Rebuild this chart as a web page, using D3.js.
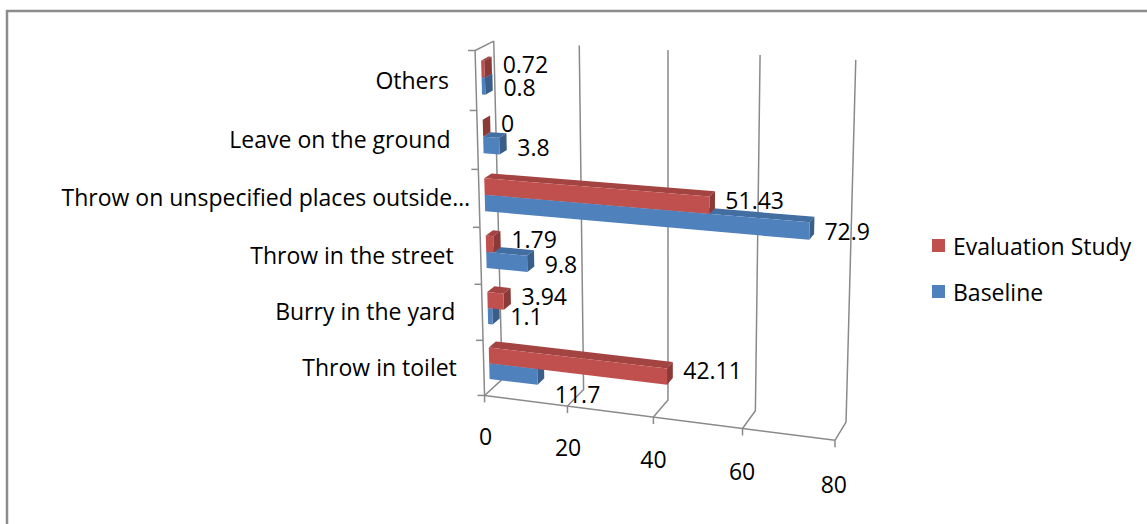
<!DOCTYPE html>
<html>
<head>
<meta charset="utf-8">
<script src="https://cdn.jsdelivr.net/npm/d3@7"></script>
<style>
  body { margin: 0; background: #fff; }
  text { font-family: "Open Sans", sans-serif; font-size: 23px; fill: #000; }
</style>
</head>
<body>
<svg id="chart" width="1147" height="524"></svg>
<script>
// data, bottom category first
var categories = ['Throw in toilet', 'Burry in the yard', 'Throw in the street',
  'Throw on unspecified places outside\u2026', 'Leave on the ground', 'Others'];
var baseline = [11.7, 1.1, 9.8, 72.9, 3.8, 0.8];
var evaluation = [42.11, 3.94, 1.79, 51.43, 0, 0.72];
var valueTicks = [0, 20, 40, 60, 80];
var seriesNames = ['Baseline', 'Evaluation Study'];
var seriesColors = ['#4F81BD', '#C0504D'];

var svg = d3.select('#chart');

// outer chart frame (runs off the right and bottom of the picture)
svg.append('rect')
  .attr('x', 7).attr('y', 11).attr('width', 1200).attr('height', 600)
  .attr('fill', 'none').attr('stroke', '#8c8c8c').attr('stroke-width', 2.5);

// unit cube -> screen. X = value, Y = category (up), Z = depth (0 front, 1 back)
// box corners and gridline ends as they sit in the picture, fitted with a DLT camera
var anchors = [
  [0, 0, 0, 485, 394], [1, 0, 0, 833, 441], [0, 1, 0, 478, 48], [0, 1, 1, 493, 43],
  [0, 0, 1, 501, 381], [1, 1, 1, 857, 60], [1, 0, 1, 847, 420],
  [0.25, 1, 1, 577, 45], [0.5, 1, 1, 667, 51], [0.75, 1, 1, 760, 55],
  [0.25, 0, 1, 584, 388], [0.5, 0, 1, 670, 400], [0.75, 0, 1, 756, 410],
  [0.25, 0, 0, 567, 407], [0.5, 0, 0, 653, 418], [0.75, 0, 0, 742, 430]
];
var CX = 650, CY = 250, S = 250;

function solveLinear(M, r) {
  var n = r.length, i, j, k;
  for (i = 0; i < n; i++) {
    var p = i;
    for (k = i + 1; k < n; k++) if (Math.abs(M[k][i]) > Math.abs(M[p][i])) p = k;
    var tmp = M[i]; M[i] = M[p]; M[p] = tmp;
    var tr = r[i]; r[i] = r[p]; r[p] = tr;
    for (k = i + 1; k < n; k++) {
      var f = M[k][i] / M[i][i];
      for (j = i; j < n; j++) M[k][j] -= f * M[i][j];
      r[k] -= f * r[i];
    }
  }
  var x = new Array(n);
  for (i = n - 1; i >= 0; i--) {
    var s = r[i];
    for (j = i + 1; j < n; j++) s -= M[i][j] * x[j];
    x[i] = s / M[i][i];
  }
  return x;
}

function fitCamera(pts) {
  var rows = [], rhs = [];
  pts.forEach(function(p) {
    var X = p[0], Y = p[1], Z = p[2];
    var u = (p[3] - CX) / S, v = (p[4] - CY) / S;
    rows.push([X, Y, Z, 1, 0, 0, 0, 0, -u * X, -u * Y, -u * Z]); rhs.push(u);
    rows.push([0, 0, 0, 0, X, Y, Z, 1, -v * X, -v * Y, -v * Z]); rhs.push(v);
  });
  var n = 11, M = [], r = [];
  for (var i = 0; i < n; i++) {
    M.push([]);
    var s = 0;
    for (var j = 0; j < n; j++) {
      var a = 0;
      for (var k = 0; k < rows.length; k++) a += rows[k][i] * rows[k][j];
      M[i].push(a);
    }
    for (k = 0; k < rows.length; k++) s += rows[k][i] * rhs[k];
    r.push(s);
  }
  return solveLinear(M, r);
}

var cam = fitCamera(anchors);

function project(X, Y, Z) {
  var w = cam[8] * X + cam[9] * Y + cam[10] * Z + 1;
  var u = (cam[0] * X + cam[1] * Y + cam[2] * Z + cam[3]) / w;
  var v = (cam[4] * X + cam[5] * Y + cam[6] * Z + cam[7]) / w;
  return [u * S + CX, v * S + CY];
}

// scales
var x = d3.scaleLinear().domain([0, 80]).range([0, 1]);
var y = d3.scaleBand().domain(d3.range(categories.length)).range([0, 1])
  .paddingInner(1.5 / 3.5).paddingOuter(0.75 / 3.5);
var ySeries = d3.scaleBand().domain([0, 1]).range([0, y.bandwidth()]);
var zBar = [0.3, 0.7];

var line = d3.line();
var gridColor = '#8a8a8a';

// walls and gridlines
var grid = svg.append('g').attr('fill', 'none').attr('stroke', gridColor).attr('stroke-width', 1.5);

valueTicks.forEach(function(t) {
  var X = x(t);
  grid.append('path').attr('d', line([project(X, 1, 1), project(X, 0, 1), project(X, 0, 0)]));
  var p = project(X, 0, 0);
  grid.append('path').attr('d', line([p, [p[0], p[1] + 7]]));
});

grid.append('path').attr('d', line([project(0, 0, 0), project(1, 0, 0)]));
grid.append('path').attr('d', line([project(0, 0, 0), project(0, 1, 0), project(0, 1, 1)]));

d3.range(categories.length + 1).forEach(function(k) {
  var p = project(0, k / categories.length, 0);
  grid.append('path').attr('d', line([[p[0] - 7, p[1]], p]));
});

// bars
function barFaces(value, y0, y1) {
  var a = 0, b = x(value), z0 = zBar[0], z1 = zBar[1];
  return {
    top: [project(a, y1, z0), project(b, y1, z0), project(b, y1, z1), project(a, y1, z1)],
    end: [project(b, y0, z0), project(b, y0, z1), project(b, y1, z1), project(b, y1, z0)],
    front: [project(a, y0, z0), project(b, y0, z0), project(b, y1, z0), project(a, y1, z0)]
  };
}

var bars = [];
categories.forEach(function(c, i) {
  [baseline, evaluation].forEach(function(series, s) {
    var y0 = y(i) + ySeries(s);
    bars.push({ cat: i, s: s, value: series[i], y0: y0, y1: y0 + ySeries.bandwidth() });
  });
});

var barLayer = svg.append('g');
bars.forEach(function(d) {
  var f = barFaces(d.value, d.y0, d.y1);
  var base = d3.color(seriesColors[d.s]);
  var g = barLayer.append('g');
  g.append('path').attr('d', line(f.top) + 'Z').attr('fill', base.darker(0.45));
  g.append('path').attr('d', line(f.end) + 'Z').attr('fill', base.darker(0.9));
  g.append('path').attr('d', line(f.front) + 'Z').attr('fill', base);
});

// data labels, placed off the end of each bar
var labelLayer = svg.append('g');
bars.forEach(function(d) {
  var yc = (d.y0 + d.y1) / 2;
  var lx = project(x(d.value), yc, 0.8)[0] + 9;
  var ly = project(x(d.value), yc, 0.5)[1] + (d.s === 0 ? 3 : -3);
  var t = labelLayer.append('text').attr('x', lx).attr('dominant-baseline', 'central')
    .text(d.value);
  if (d.s === 0) {
    // move the baseline label under its bar when the evaluation bar runs over it
    var w = t.node().getComputedTextLength();
    var otherEnd = project(x(evaluation[d.cat]), d.y1, 0)[0];
    if (otherEnd > lx + w) ly = project(x(d.value), d.y0, 0)[1] + 4;
  }
  t.attr('y', ly);
});

// category labels; a truncated label lets its ellipsis hang past the edge
categories.forEach(function(c, i) {
  var p = project(0, y(i) + y.bandwidth() / 2, 0);
  var t = svg.append('text').attr('y', p[1] - 1)
    .attr('text-anchor', 'end').attr('dominant-baseline', 'central').text(c);
  var hang = 0;
  if (c.slice(-1) === '\u2026') {
    var full = t.node().getComputedTextLength();
    t.text(c.slice(0, -1));
    hang = full - t.node().getComputedTextLength();
    t.text(c);
  }
  t.attr('x', p[0] - 27 + hang);
});

// value axis labels
valueTicks.forEach(function(t) {
  var p = project(x(t), -0.125, 0);
  svg.append('text').attr('x', p[0]).attr('y', p[1])
    .attr('text-anchor', 'middle').attr('dominant-baseline', 'central').text(t);
});

// legend, evaluation study listed first
var legend = svg.append('g').attr('transform', 'translate(932,239)');
[1, 0].forEach(function(s, k) {
  var row = legend.append('g').attr('transform', 'translate(0,' + (k * 46) + ')');
  row.append('rect').attr('width', 13).attr('height', 13).attr('fill', seriesColors[s]);
  row.append('text').attr('x', 21).attr('y', 7).attr('dominant-baseline', 'central').text(seriesNames[s]);
});
</script>
</body>
</html>
